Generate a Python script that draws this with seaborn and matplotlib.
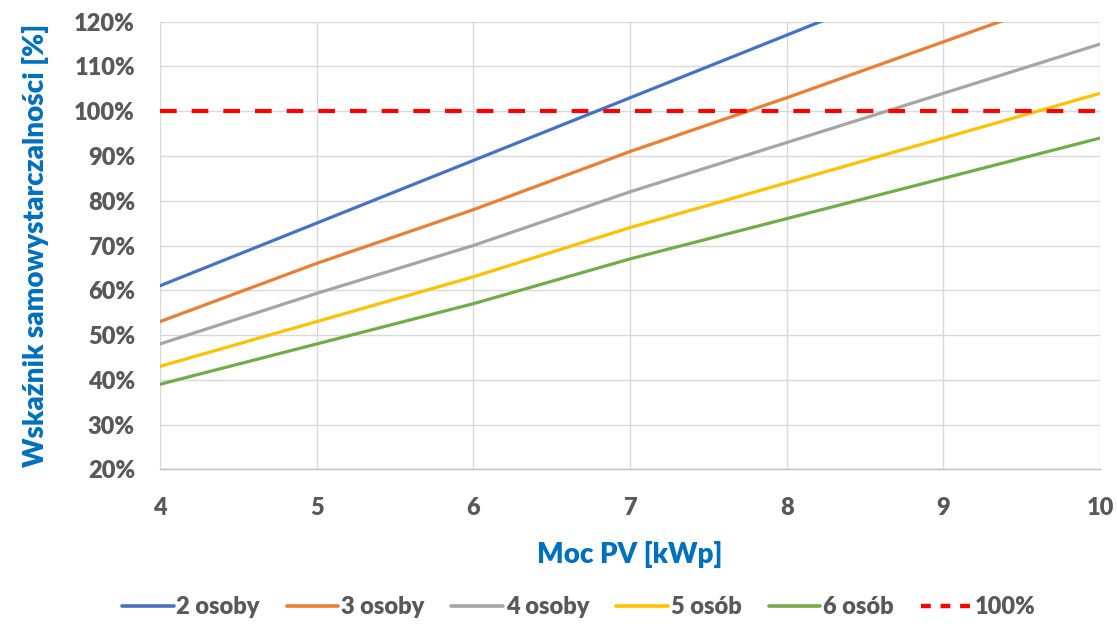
import matplotlib
matplotlib.use("Agg")
import matplotlib.pyplot as plt
from matplotlib.lines import Line2D
import seaborn as sns
import pandas as pd

# ---- data ----
moc_pv = [4, 5, 6, 7, 8, 9, 10]
osoby_2 = [61, 75, 89, 103, 117, 131, 145]
osoby_3 = [53, 66, 78, 91, 103, 115.5, 128]
osoby_4 = [48, 59.3, 70, 82, 93, 104, 115]
osob_5 = [43, 53, 63, 74, 84, 94, 104]
osob_6 = [39, 48, 57, 67, 76, 85, 94]
ref_100 = [100, 100, 100, 100, 100, 100, 100]
series_names = ["2 osoby", "3 osoby", "4 osoby", "5 osób", "6 osób"]
ref_name = "100%"
y_ticks = [20, 30, 40, 50, 60, 70, 80, 90, 100, 110, 120]

colors = ["#4472C4", "#ED7D31", "#A5A5A5", "#FFC000", "#70AD47"]
ref_color = "#FF0000"

df = pd.DataFrame({
    "Moc PV": moc_pv * 5,
    "value": osoby_2 + osoby_3 + osoby_4 + osob_5 + osob_6,
    "series": sum([[n] * len(moc_pv) for n in series_names], []),
})
df_ref = pd.DataFrame({"Moc PV": moc_pv, "value": ref_100})

sns.set_theme(style="white")
plt.rcParams["font.family"] = ["Lato", "DejaVu Sans"]

fig = plt.figure(figsize=(11.17, 6.24), dpi=100)
ax = fig.add_axes([0.1432, 0.2479, 0.8416, 0.7173])

sns.lineplot(data=df, x="Moc PV", y="value", hue="series", hue_order=series_names,
             palette=colors, linewidth=2.3, ax=ax, legend=False, sort=True)
sns.lineplot(data=df_ref, x="Moc PV", y="value", color=ref_color, linewidth=3,
             dashes=False, ax=ax, legend=False)
ax.lines[-1].set_dashes((4, 3.6))

ax.set_xlim(4, 10)
ax.set_ylim(20, 120)
ax.set_xticks(moc_pv)
ax.set_yticks(y_ticks)
ax.set_yticklabels([f"{v}%" for v in y_ticks])
ax.grid(True, color="#D9D9D9", linewidth=1)
ax.set_axisbelow(True)
for s in ["top", "right", "left"]:
    ax.spines[s].set_visible(False)
ax.spines["bottom"].set_color("#BFBFBF")
ax.spines["bottom"].set_linewidth(1)

ax.tick_params(axis="both", length=0, labelsize=17, labelcolor="#595959")
ax.tick_params(axis="y", pad=18)
ax.tick_params(axis="x", pad=20)
for lab in ax.get_xticklabels() + ax.get_yticklabels():
    lab.set_fontweight("heavy")

ax.set_xlabel("Moc PV [kWp]", fontsize=20, fontweight="heavy", color="#0070C0", labelpad=16)
ax.set_ylabel("Wskaźnik samowystarczalności [%]", fontsize=20, fontweight="heavy",
              color="#0070C0", labelpad=18)

handles = [Line2D([0], [0], color=c, linewidth=2.6) for c in colors]
handles.append(Line2D([0], [0], color=ref_color, linewidth=3.2, dashes=(2.2, 2.2)))
leg = fig.legend(handles, series_names + [ref_name], loc="lower center",
                 bbox_to_anchor=(0.518, -0.025), ncol=6, frameon=False,
                 fontsize=17, handlelength=2.2, handletextpad=0.1, columnspacing=1.15)
for t in leg.get_texts():
    t.set_fontweight("heavy")
    t.set_color("#595959")

fig.savefig("out.png", dpi=100)
